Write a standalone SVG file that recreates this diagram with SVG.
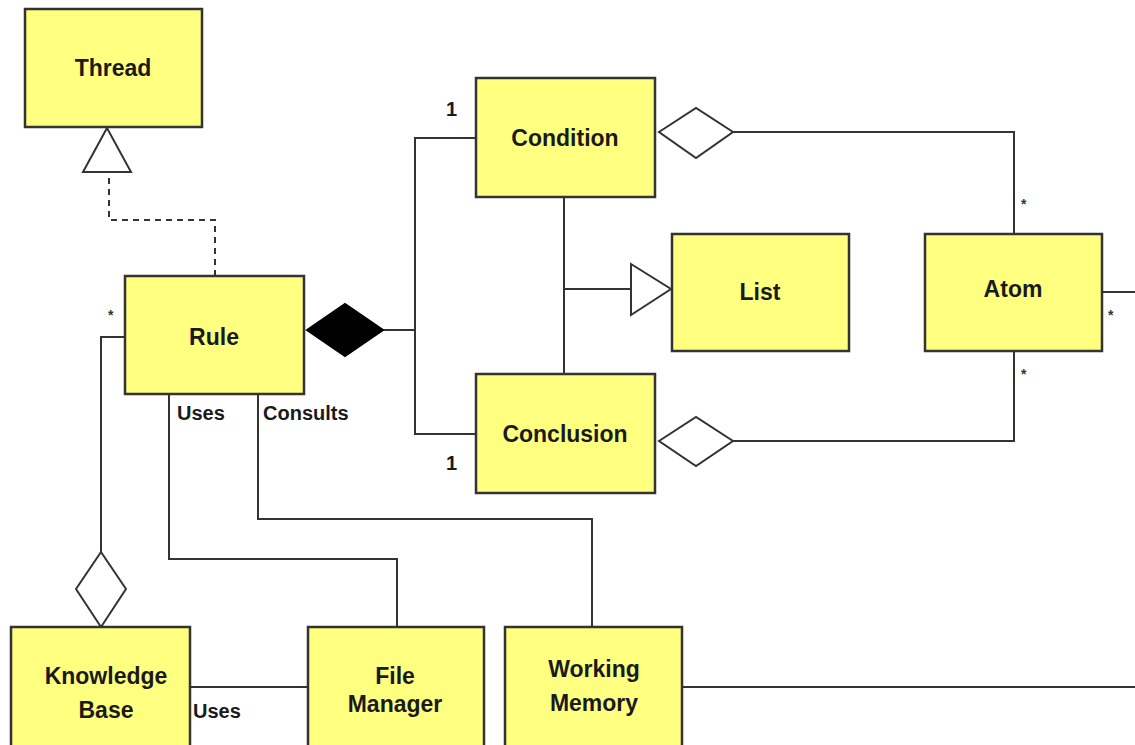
<svg xmlns="http://www.w3.org/2000/svg" width="1135" height="745" viewBox="0 0 1135 745">
<style>
.box{fill:#ffff80;stroke:#333;stroke-width:2.5}
.t{font-family:"Liberation Sans",Arial,sans-serif;font-weight:bold;font-size:23px;fill:#1a1a1a;text-anchor:middle}
.lbl{font-family:"Liberation Sans",Arial,sans-serif;font-weight:bold;font-size:20px;fill:#1a1a1a}
.star{font-family:"Liberation Sans",Arial,sans-serif;font-weight:bold;font-size:14px;fill:#333}
.ln{fill:none;stroke:#333;stroke-width:2}
.dash{fill:none;stroke:#333;stroke-width:2;stroke-dasharray:6,5}
.open{fill:#fff;stroke:#333;stroke-width:2}
.solid{fill:#000;stroke:#000;stroke-width:2}
</style>
<rect width="1135" height="745" fill="#fff"/>
<g id="connectors">
  <path class="dash" d="M215,276 V220 H109 V176"/>
  <polygon class="open" points="107,128 83,172 131,172"/>
  <path class="ln" d="M383,330 H415 M476,138 H415 V434 H476"/>
  <polygon class="solid" points="307,330 345,304 383,330 345,356"/>
  <path class="ln" d="M564,197 V374 M564,289 H631"/>
  <polygon class="open" points="631,264 671,289 631,315"/>
  <path class="ln" d="M733,132 H1014 V234"/>
  <polygon class="open" points="659,132 696,108 733,132 696,158"/>
  <path class="ln" d="M733,441 H1014 V351"/>
  <polygon class="open" points="659,441 696,417 733,441 696,466"/>
  <path class="ln" d="M1102,292 H1135"/>
  <path class="ln" d="M125,337 H101 V552"/>
  <polygon class="open" points="101,552 126,589 101,627 76,589"/>
  <path class="ln" d="M169,394 V559 H397 V627"/>
  <path class="ln" d="M258,394 V519 H592 V627"/>
  <path class="ln" d="M190,687 H308"/>
  <path class="ln" d="M682,687 H1135"/>
  <text class="star" x="108" y="320">*</text>
  <text class="star" x="1021" y="209">*</text>
  <text class="star" x="1108" y="320">*</text>
  <text class="star" x="1021" y="379">*</text>
  <text class="lbl" x="446" y="116">1</text>
  <text class="lbl" x="446" y="470">1</text>
  <text class="lbl" x="177" y="420">Uses</text>
  <text class="lbl" x="263" y="420">Consults</text>
  <text class="lbl" x="193" y="718">Uses</text>
</g>
<g id="thread"><rect class="box" x="25" y="9" width="177" height="118"/><text class="t" x="113" y="76">Thread</text></g>
<g id="rule"><rect class="box" x="125" y="276" width="179" height="118"/><text class="t" x="214" y="345">Rule</text></g>
<g id="condition"><rect class="box" x="476" y="78" width="179" height="119"/><text class="t" x="565" y="146">Condition</text></g>
<g id="list"><rect class="box" x="672" y="234" width="177" height="117"/><text class="t" x="760" y="300">List</text></g>
<g id="atom"><rect class="box" x="925" y="234" width="177" height="117"/><text class="t" x="1013" y="297">Atom</text></g>
<g id="conclusion"><rect class="box" x="476" y="374" width="179" height="119"/><text class="t" x="565" y="442">Conclusion</text></g>
<g id="knowledge-base"><rect class="box" x="11" y="627" width="179" height="130"/><text class="t" x="106" y="684">Knowledge</text><text class="t" x="106" y="718">Base</text></g>
<g id="file-manager"><rect class="box" x="308" y="627" width="176" height="130"/><text class="t" x="395" y="684">File</text><text class="t" x="395" y="712">Manager</text></g>
<g id="working-memory"><rect class="box" x="505" y="627" width="177" height="130"/><text class="t" x="594" y="677">Working</text><text class="t" x="594" y="711">Memory</text></g>
</svg>
